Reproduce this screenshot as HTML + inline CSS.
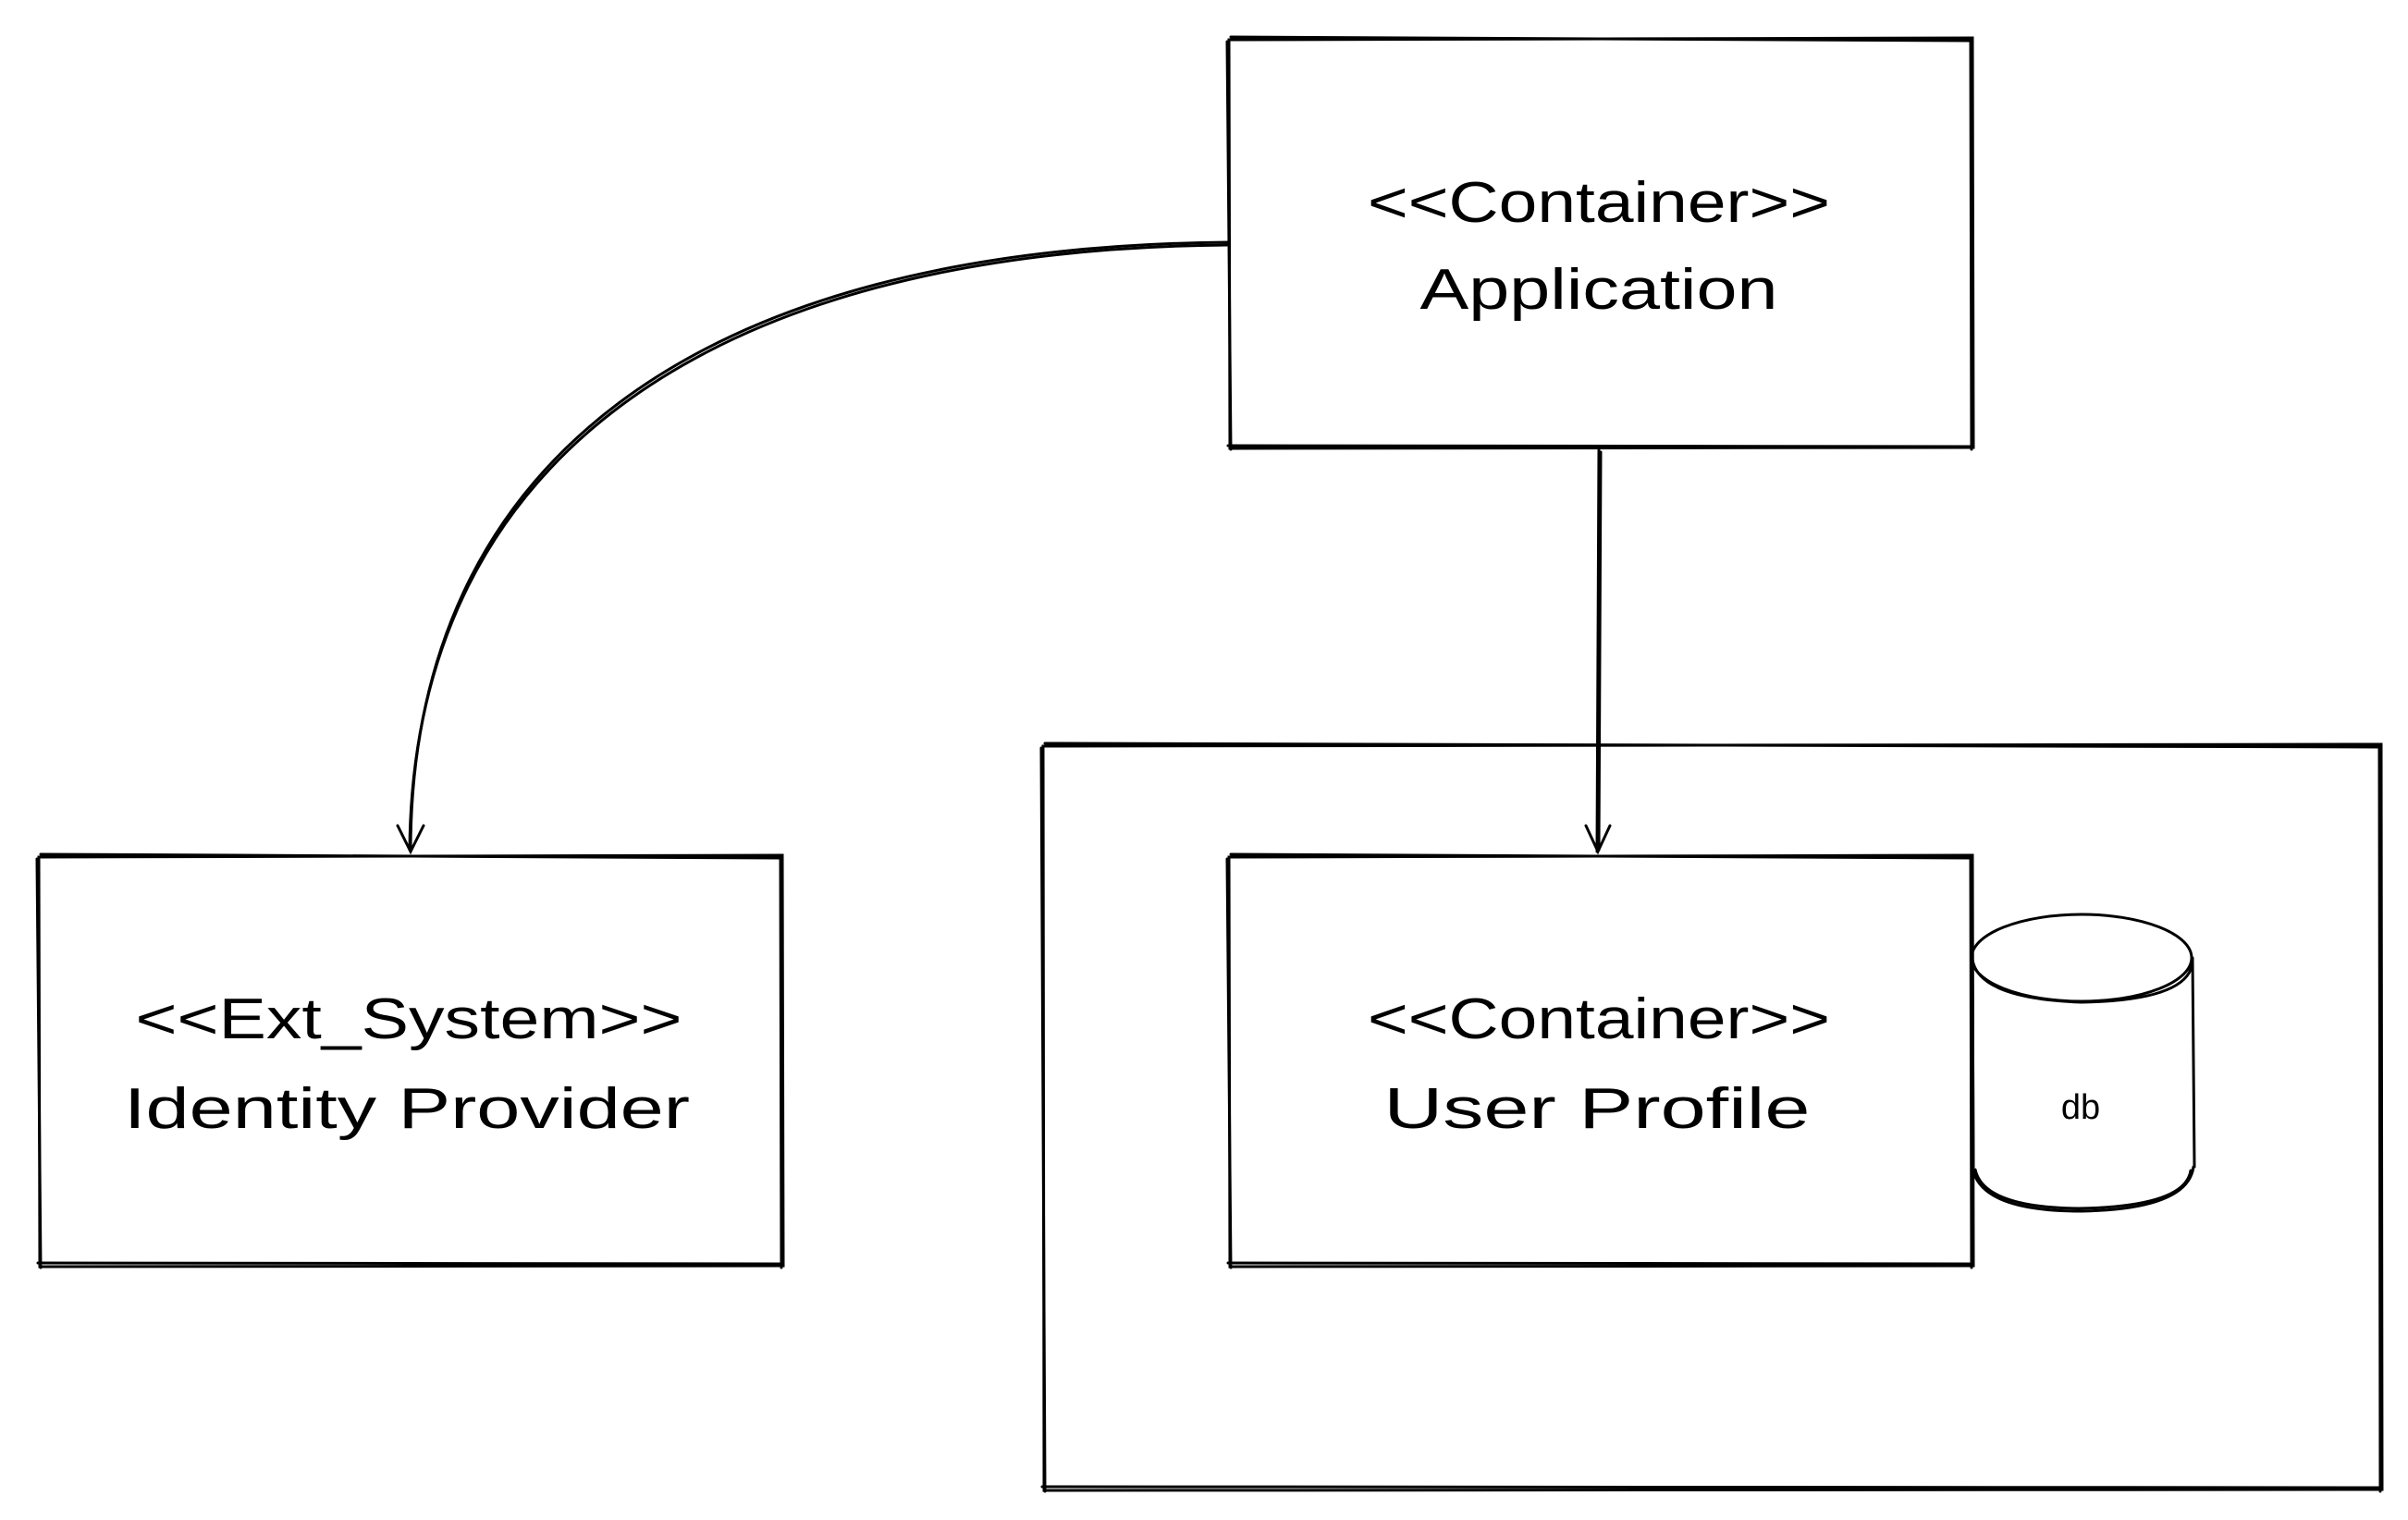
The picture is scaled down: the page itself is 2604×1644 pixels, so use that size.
<!DOCTYPE html>
<html><head><meta charset="utf-8"><style>
html,body{margin:0;padding:0;background:#fff;}
svg{display:block}
text{font-family:"Liberation Sans Narrow","Liberation Sans",sans-serif;fill:#000;}
</style></head><body>
<svg width="2604" height="1644" viewBox="0 0 2604 1644" xmlns="http://www.w3.org/2000/svg">
<g fill="none" stroke="#000" stroke-width="3" stroke-linecap="round">
<!-- Application box -->
<path d="M1329 43 L2133 41 L2134 484 L1330 485 Z"/>
<path d="M1331 40 L2131 44 M2131 43 L2132 486 M2133 483 L1328 482 M1331 486 L1327 45"/>
<!-- Identity provider box -->
<path d="M42 927 L846 925 L847 1369 L43 1370 Z"/>
<path d="M44 924 L844 928 M844 927 L845 1371 M846 1367 L41 1366 M44 1371 L40 929"/>
<!-- Outer boundary -->
<path d="M1128 807 L2575 805 L2576 1611 L1129 1612 Z"/>
<path d="M1130 804 L2573 808 M2573 807 L2574 1613 M2575 1609 L1127 1608 M1130 1613 L1126 809"/>
<!-- User Profile box -->
<path d="M1329 927 L2133 925 L2134 1369 L1330 1370 Z"/>
<path d="M1331 924 L2131 928 M2131 927 L2132 1371 M2133 1367 L1328 1366 M1331 1371 L1327 929"/>
<!-- DB cylinder -->
<ellipse cx="2251" cy="1036" rx="119" ry="47"/>
<path d="M2133 1038 Q2140 1080 2251 1084 Q2368 1082 2371 1040"/>
<path d="M2133 1036 L2134 1262 M2371 1036 L2373 1262"/>
<path d="M2133 1262 Q2140 1310 2251 1310 Q2366 1308 2372 1262"/>
<path d="M2136 1265 Q2145 1306 2248 1307 Q2363 1305 2369 1266"/>
<!-- curved connector -->
<path d="M1329 262 C751 267 444 500 444 921"/>
<path d="M1327 265 C755 270 446 505 443 919"/>
<path d="M430 893 L444 921 L458 893"/>
<!-- straight connector -->
<path d="M1729 487 L1727 921"/>
<path d="M1731 489 L1729 919"/>
<path d="M1715 893 L1728 921 L1741 893"/>
</g>
<g font-size="62" text-anchor="middle">
<text x="1729" y="240" textLength="500" lengthAdjust="spacingAndGlyphs">&lt;&lt;Container&gt;&gt;</text>
<text x="1729" y="334" textLength="387" lengthAdjust="spacingAndGlyphs">Application</text>
<text x="442" y="1123" textLength="591" lengthAdjust="spacingAndGlyphs">&lt;&lt;Ext_System&gt;&gt;</text>
<text x="440" y="1220" textLength="612" lengthAdjust="spacingAndGlyphs">Identity Provider</text>
<text x="1729" y="1123" textLength="500" lengthAdjust="spacingAndGlyphs">&lt;&lt;Container&gt;&gt;</text>
<text x="1727" y="1220" textLength="461" lengthAdjust="spacingAndGlyphs">User Profile</text>
</g>
<text x="2250" y="1210" font-size="38" text-anchor="middle" style="font-family:'Liberation Sans',sans-serif">db</text>
</svg>
</body></html>
